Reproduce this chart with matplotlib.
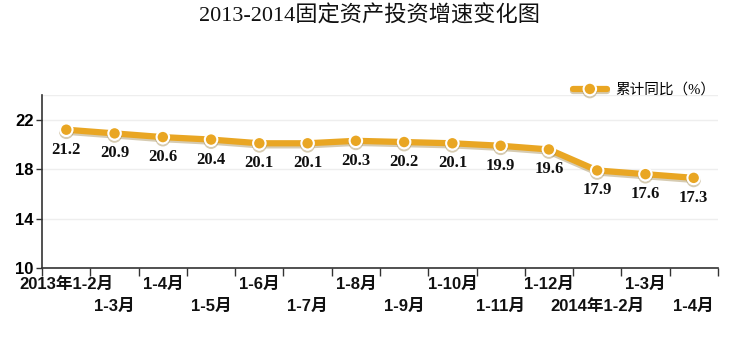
import matplotlib; matplotlib.use("Agg")
import matplotlib.pyplot as plt
import matplotlib.patheffects as pe
import numpy as np

months = ["2013年1-2月", "1-3月", "1-4月", "1-5月", "1-6月", "1-7月", "1-8月", "1-9月",
          "1-10月", "1-11月", "1-12月", "2014年1-2月", "1-3月", "1-4月"]
growth = [21.2, 20.9, 20.6, 20.4, 20.1, 20.1, 20.3, 20.2, 20.1, 19.9, 19.6, 17.9, 17.6, 17.3]
yticks = [10, 14, 18, 22]

SANS = ["Liberation Sans", "Noto Sans CJK SC"]
SERIF = ["Liberation Serif", "Noto Sans CJK SC"]
GOLD = "#E9A623"

fig = plt.figure(figsize=(7.4, 3.64), dpi=100)
ax = fig.add_axes([0.057, 0.2637, 0.913, 0.475])
x = np.arange(len(months))

ax.plot(x, growth, color=GOLD, lw=4.5, marker="o", ms=9, mfc=GOLD, mec="white", mew=1.5,
        solid_capstyle="round", label="累计同比（%）", zorder=5,
        path_effects=[pe.SimpleLineShadow(offset=(0, -1.5), shadow_color="#8a6a20", alpha=0.35), pe.Normal()])
for xi, v in zip(x, growth):
    ax.annotate(f"{v:.1f}", (xi, v), xytext=(0, -20), textcoords="offset pixels",
                ha="center", va="center", fontsize=12, fontweight="bold", family=SERIF, color="#111111")

ax.set_xlim(-0.5, len(months) - 0.5)
ax.set_ylim(10, 24)
ax.set_yticks(yticks)
ax.set_yticklabels([str(t) for t in yticks], fontsize=12, fontweight="bold", family=SANS)
ax.set_xticks(np.arange(len(months) + 1) - 0.5)
ax.set_xticklabels([])
ax.tick_params(axis="x", length=6, width=1, color="#333333", direction="out")
ax.tick_params(axis="y", length=4, width=1, color="#333333", direction="out", pad=2)
for i, m in enumerate(months):
    ax.text(i, -0.092 if i % 2 == 0 else -0.22, m, transform=ax.get_xaxis_transform(),
            ha="center", va="center", fontsize=12, fontweight="bold", family=SANS, color="#111111")

ax.grid(axis="y", color="#eeeeee", lw=1)
ax.set_axisbelow(True)
for s in ["top", "right"]:
    ax.spines[s].set_visible(False)
ax.axhline(24, color="#eeeeee", lw=1, zorder=0)
for s in ["left", "bottom"]:
    ax.spines[s].set_color("#333333"); ax.spines[s].set_linewidth(1.2)

leg = ax.legend(loc="lower right", bbox_to_anchor=(1.005, 0.955), frameon=False,
                prop={"family": SERIF, "size": 10.5}, handlelength=2.3, borderaxespad=0, handletextpad=0.6)

fig.text(0.5, 0.955, "2013-2014固定资产投资增速变化图", ha="center", va="center",
         fontsize=16, family=SERIF, color="#111111")

fig.savefig("out.png", dpi=100)
